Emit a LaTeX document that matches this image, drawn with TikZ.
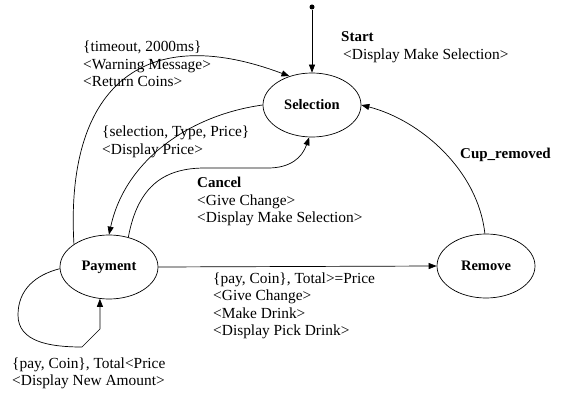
\documentclass[tikz,border=0pt]{standalone}
\usepackage{fontspec}
\setmainfont{Liberation Serif}
\usetikzlibrary{shapes.geometric,arrows.meta}
\begin{document}
\begin{tikzpicture}[x=1pt,y=-1pt,
  state/.style={draw,ellipse,line width=0.7pt,minimum width=98pt,minimum height=64pt,inner sep=0pt,font=\fontsize{14.5}{17}\selectfont\bfseries},
  lbl/.style={anchor=base west,align=left,inner sep=0pt,font=\fontsize{15.4}{17.5}\selectfont},
  blbl/.style={anchor=base west,inner sep=0pt,font=\fontsize{15}{17.5}\selectfont\bfseries},
  conn/.style={line width=0.7pt,-{Triangle[length=8pt,width=6pt]}},
]
\useasboundingbox[fill=white] (0,0) rectangle (565,393);

\node[state] (sel) at (312,105) {Selection};
\node[state] (pay) at (109,267) {Payment};
\node[state] (rem) at (486,266) {Remove};
\node[circle,fill,inner sep=0pt,minimum size=5pt] (start) at (312,7) {};

% initial transition
\draw[conn] (start) -- (sel.north);
\node[blbl] (startl) at (341,42) {Start};
\node[lbl] (startd) at (343,60) {<Display Make Selection>};

% timeout (base = last line)
\draw[conn] (pay.147) .. controls (65,90) and (140,20) .. (sel.128);
\node[lbl] (tl) at (83,87) {\{timeout, 2000ms\}\\<Warning Message>\\<Return Coins>};

% selection -> payment
\draw[conn] (sel.west) .. controls (190,115) and (125,160) .. (pay.north);
\node[lbl] (sl) at (102,154.5) {\{selection, Type, Price\}\\<Display Price>};

% cancel
\draw[conn] (pay.57) .. controls (138,185) and (165,168) .. (205,168) -- (268,168) .. controls (290,168) and (302,158) .. (sel.-95);
\node[blbl] (cl) at (197,187) {Cancel};
\node[lbl] (cd) at (197,222.5) {<Give Change>\\<Display Make Selection>};

% payment -> remove
\draw[conn] (pay.east) -- (rem.west);
\node[lbl] (pl) at (213,335.5) {\{pay, Coin\}, Total>=Price\\<Give Change>\\<Make Drink>\\<Display Pick Drink>};

% cup removed
\draw[conn] (rem.92) .. controls (478,170) and (420,120) .. (sel.east);
\node[blbl] (cupl) at (460,158) {Cup\_removed};

% self loop
\draw[conn] (pay.182) .. controls (35,275) and (18,290) .. (18,315) .. controls (18,342) and (50,347) .. (82,347) -- (100,329) -- (pay.-106);
\node[lbl] (ll) at (12,385.5) {\{pay, Coin\}, Total<Price\\<Display New Amount>};
\end{tikzpicture}
\end{document}
